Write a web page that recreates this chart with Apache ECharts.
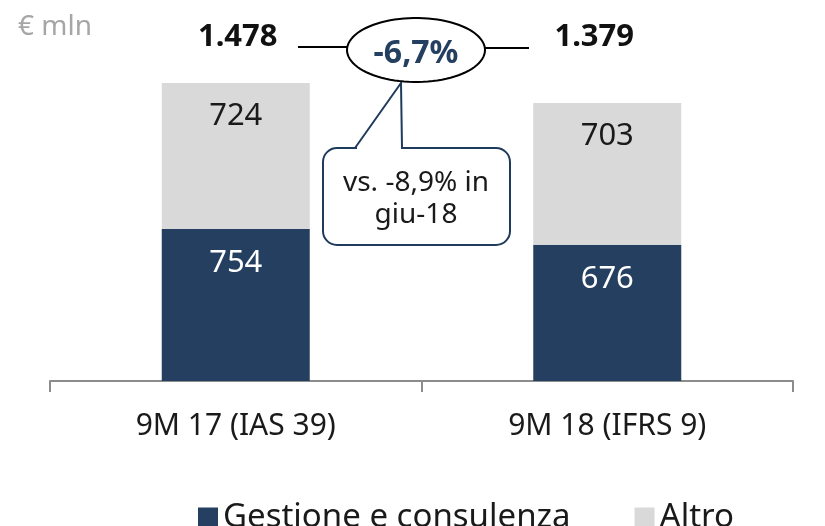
<!DOCTYPE html>
<html>
<head>
<meta charset="utf-8">
<title>Commissioni nette</title>
<script src="https://cdn.jsdelivr.net/npm/echarts@6/dist/echarts.min.js"></script>
<style>
  html, body { margin: 0; padding: 0; background: #fff; }
  #chart { width: 825px; height: 526px; }
</style>
</head>
<body>
<div id="chart"></div>
<script>
var categories = ['9M 17 (IAS 39)', '9M 18 (IFRS 9)']
var gestione = [754, 676]
var altro = [724, 703]
var noteText = 'vs. -8,9% in\ngiu-18'

var darkBlue = '#243f60'
var lightGrey = '#d9d9d9'
var fontFamily = '"Noto Sans", sans-serif'

var totals = gestione.map(function(v, i) { return v + altro[i] })

// 1478 -> "1.478"
function fmtIt(n) {
  return String(n).replace(/\B(?=(\d{3})+(?!\d))/g, '.')
}

var change = (totals[1] - totals[0]) / totals[0] * 100
var changeText = change.toFixed(1).replace('.', ',') + '%'

// outline of the change bubble
function ellipsePoints(cx, cy, rx, ry) {
  var pts = []
  for (var k = 0; k < 90; k++) {
    var a = k / 90 * Math.PI * 2
    pts.push([cx + rx * Math.cos(a), cy + ry * Math.sin(a)])
  }
  return pts
}

var chart = echarts.init(document.getElementById('chart'))

chart.setOption({
  animation: false,
  textStyle: { fontFamily: fontFamily },
  grid: {
    left: 50,
    right: 32,
    top: 18,
    bottom: 145
  },
  legend: {
    left: 193,
    top: 496,
    itemWidth: 20,
    itemHeight: 20,
    itemGap: 64,
    icon: 'rect',
    textStyle: { fontSize: 33, color: '#1a1a1a', fontFamily: fontFamily },
    data: ['Gestione e consulenza', 'Altro']
  },
  xAxis: {
    type: 'category',
    data: categories,
    axisLine: { lineStyle: { color: '#8c8c8c', width: 2 } },
    axisTick: { show: true, length: 11, lineStyle: { color: '#8c8c8c', width: 2 } },
    axisLabel: { fontSize: 30, color: '#1a1a1a', margin: 30 }
  },
  yAxis: {
    type: 'value',
    min: 0,
    max: 1800,
    show: false,
    splitLine: { show: false }
  },
  series: [
    {
      name: 'Gestione e consulenza',
      type: 'bar',
      stack: 'tot',
      barWidth: 148,
      data: gestione,
      itemStyle: { color: darkBlue },
      label: {
        show: true,
        position: 'insideTop',
        distance: 19,
        fontSize: 31,
        color: '#fff'
      }
    },
    {
      name: 'Altro',
      type: 'bar',
      stack: 'tot',
      barWidth: 148,
      data: altro,
      itemStyle: { color: lightGrey },
      label: {
        show: true,
        position: 'insideTop',
        distance: 18,
        fontSize: 31,
        color: '#1a1a1a'
      }
    }
  ]
})

// annotations: unit, totals, change bubble and callout
var x0 = chart.convertToPixel({ xAxisIndex: 0 }, 0)
var x1 = chart.convertToPixel({ xAxisIndex: 0 }, 1)

chart.setOption({
  graphic: [
    {
      type: 'text',
      x: 18,
      y: 27,
      style: {
        text: '€ mln', fontSize: 28, fill: '#a6a6a6',
        verticalAlign: 'middle', fontFamily: fontFamily
      }
    },
    {
      type: 'text',
      x: x0 + 2,
      y: 37,
      style: {
        text: fmtIt(totals[0]), fontSize: 31, fontWeight: 'bold', fill: '#111',
        align: 'center', verticalAlign: 'middle', fontFamily: fontFamily
      }
    },
    {
      type: 'text',
      x: x1 - 13,
      y: 37,
      style: {
        text: fmtIt(totals[1]), fontSize: 31, fontWeight: 'bold', fill: '#111',
        align: 'center', verticalAlign: 'middle', fontFamily: fontFamily
      }
    },
    {
      type: 'line',
      shape: { x1: 298, y1: 47, x2: 348, y2: 47 },
      style: { stroke: '#000', lineWidth: 2 }
    },
    {
      type: 'line',
      shape: { x1: 485, y1: 48, x2: 529, y2: 48 },
      style: { stroke: '#000', lineWidth: 2 }
    },
    {
      type: 'rect',
      shape: { x: 323, y: 148, width: 187, height: 97, r: 14 },
      style: { fill: '#fff', stroke: '#1f3b5c', lineWidth: 2 }
    },
    {
      type: 'polygon',
      shape: { points: [[357, 145], [400, 86], [401, 86], [401, 151], [357, 151]] },
      style: { fill: '#fff', stroke: null }
    },
    {
      type: 'polyline',
      shape: { points: [[355, 148], [401, 83], [402, 148]] },
      style: { fill: null, stroke: '#1f3b5c', lineWidth: 2 }
    },
    {
      type: 'polygon',
      shape: { points: ellipsePoints(416, 50, 69, 32) },
      style: { fill: '#fff', stroke: '#000', lineWidth: 2 }
    },
    {
      type: 'text',
      x: 416,
      y: 54,
      style: {
        text: changeText, fontSize: 32, fontWeight: 'bold', fill: darkBlue,
        align: 'center', verticalAlign: 'middle', fontFamily: fontFamily
      }
    },
    {
      type: 'text',
      x: 416,
      y: 199,
      style: {
        text: noteText, fontSize: 28, lineHeight: 32, fill: '#1a1a1a',
        align: 'center', verticalAlign: 'middle', fontFamily: fontFamily
      }
    }
  ]
})
</script>
</body>
</html>
